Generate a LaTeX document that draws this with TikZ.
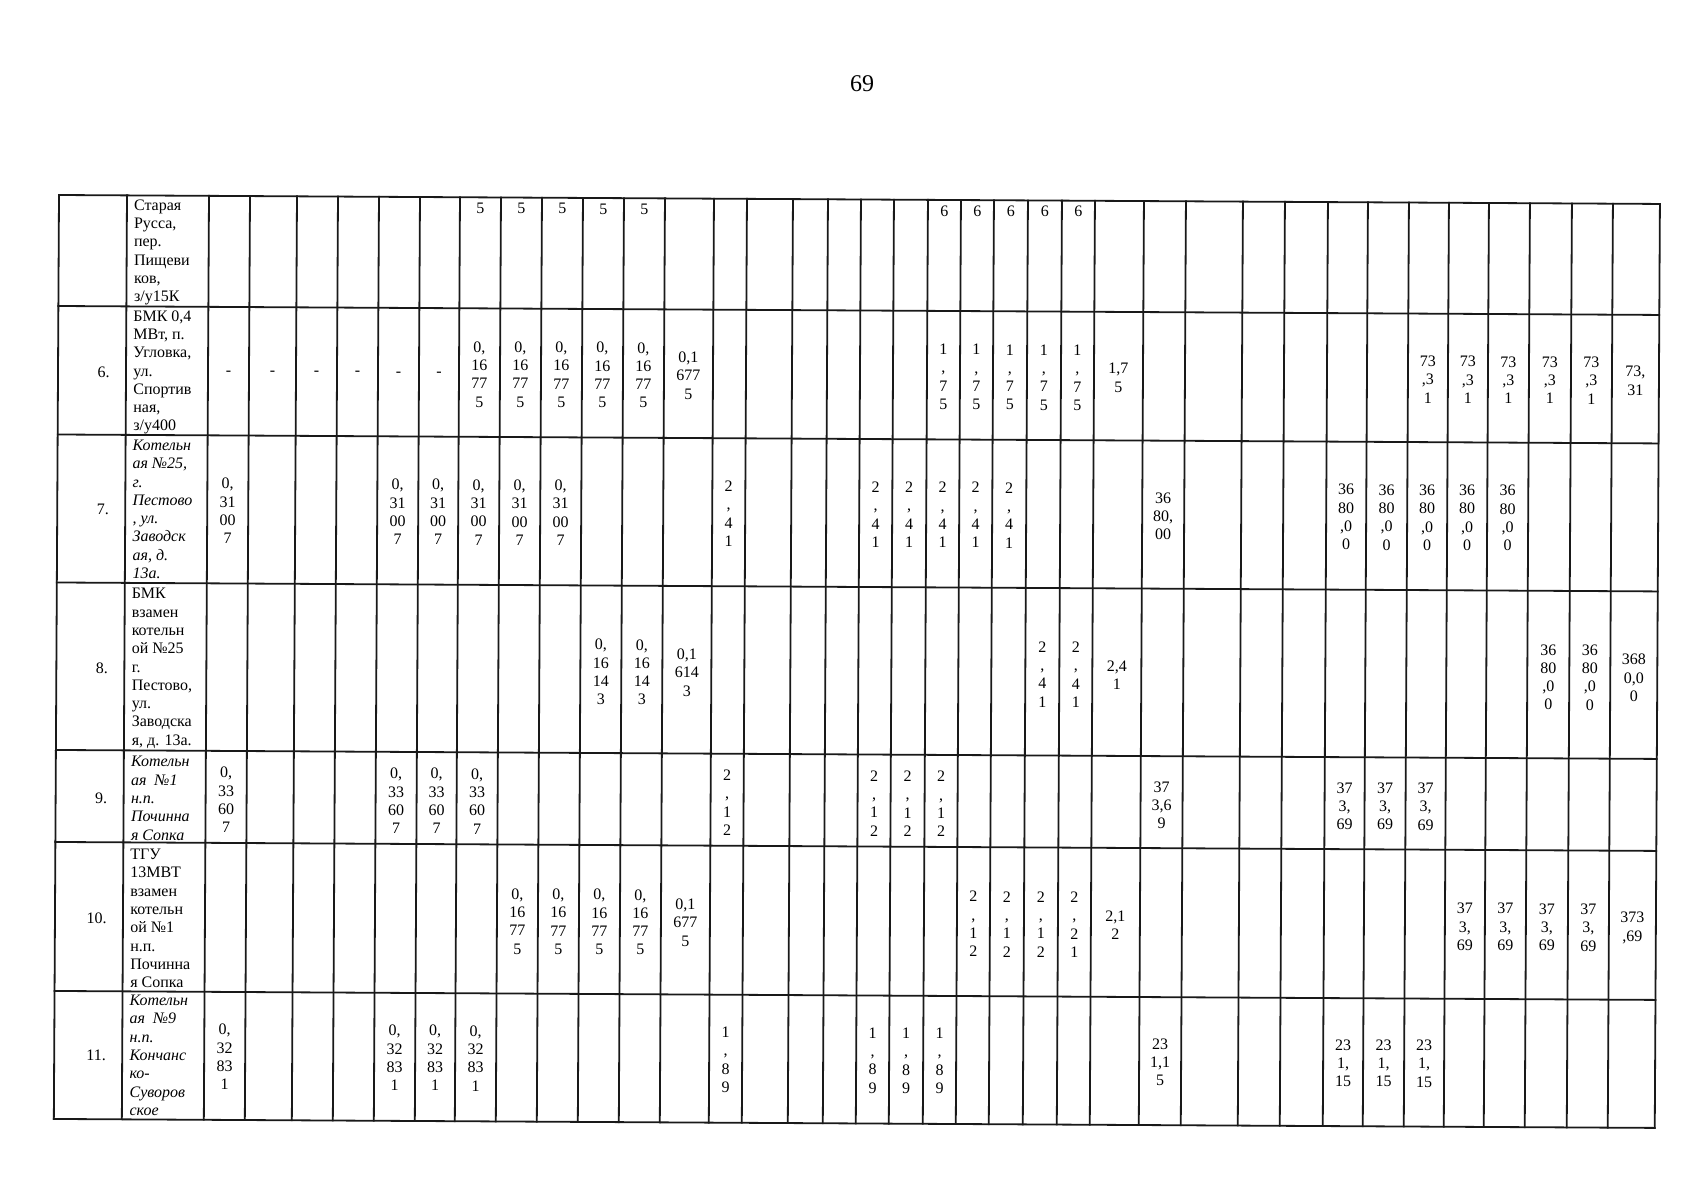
\documentclass[tikz,border=0pt]{standalone}
\usepackage{fontspec}
\setmainfont{Liberation Serif}
\usepackage{tikz}
% left edges of the table columns (px, unrotated)
\def\colL{{59,127,209,250,297,338,379,420,460,501,542,583,624,665,714,747,793,828,861,894,928,961,994,1028,1062,1095,1144,1186,1243,1285,1328,1368,1409,1449,1489,1530,1572,1613,1660}}
\tikzset{
  gridline/.style={line width=0.9pt, black!90, line cap=rect},
  numcell/.style={font=\fontsize{8}{9.15}\selectfont, anchor=east, inner sep=0pt},
  namecell/.style={font=\fontsize{8}{9.15}\selectfont, align=left, anchor=west, inner sep=0pt},
  namecellit/.style={namecell, font=\fontsize{8}{9.15}\selectfont\itshape},
  valcell/.style={font=\fontsize{8}{9.15}\selectfont, align=center, inner sep=0pt},
  pagenum/.style={font=\fontsize{12}{14}\selectfont, inner sep=0pt}
}
% same value in several columns of one row
\newcommand{\putvals}[4]{%
  \foreach \k in {#3} {%
    \pgfmathtruncatemacro{\kn}{\k+1}%
    \pgfmathsetmacro{\xa}{\colL[\k]}%
    \pgfmathsetmacro{\xb}{\colL[\kn]}%
    \pgfmathsetmacro{\cellx}{(\xa+\xb)/2}%
    \node[valcell] (#1c\k) at (\cellx,#2) {#4};%
  }%
}

\begin{document}
\begin{tikzpicture}[x=0.5pt, y=-0.5pt]
  \useasboundingbox (0,0) rectangle (1695,1200);
  \node[pagenum] (pageno) at (862,84) {69};

  \begin{scope}[rotate around={-0.32:(59,195)}]
    % table grid
    \foreach \k in {0,...,38} {
      \pgfmathsetmacro{\lx}{\colL[\k]}
      \draw[gridline] (\lx,195) -- (\lx,1119);
    }
    \foreach \yy in {195,306,434.5,582.5,750,842,991,1119}
      \draw[gridline] (59,\yy) -- (1660,\yy);

    % row continued from previous page
    \node[namecell] (rowaname) at (134,252) {Старая\\Русса,\\пер.\\Пищеви\\ков,\\з/у15К};
    \putvals{rowa}{206}{8,...,12}{5}
    \putvals{rowa}{206}{20,...,24}{6}

    % row 6
    \node[numcell] (row6no) at (111,372) {6.};
    \node[namecell] (row6name) at (134,372) {БМК 0,4\\МВт, п.\\Угловка,\\ул.\\Спортив\\ная,\\з/у400};
    \putvals{row6}{372}{2,...,7}{-}
    \putvals{row6}{372}{8,...,12}{0,\\16\\77\\5}
    \putvals{row6}{372}{13}{0,1\\677\\5}
    \putvals{row6}{372}{20,...,24}{1\\,\\7\\5}
    \putvals{row6}{372}{25}{1,7\\5}
    \putvals{row6}{372}{32,...,36}{73\\,3\\1}
    \putvals{row6}{372}{37}{73,\\31}

    % row 7
    \node[numcell] (row7no) at (111,509) {7.};
    \node[namecellit] (row7name) at (134,509) {Котельн\\ая №25,\\г.\\Пестово\\, ул.\\Заводск\\ая, д.\\13а.};
    \putvals{row7}{510}{2,6,7,8,9,10}{0,\\31\\00\\7}
    \putvals{row7}{510}{14,18,19,20,21,22}{2\\,\\4\\1}
    \putvals{row7}{510}{26}{36\\80,\\00}
    \putvals{row7}{510}{30,...,34}{36\\80\\,0\\0}

    % row 8
    \node[numcell] (row8no) at (111,668) {8.};
    \node[namecell] (row8name) at (134,668) {БМК\\взамен\\котельн\\ой №25\\г.\\Пестово,\\ул.\\Заводска\\я, д. 13а.};
    \putvals{row8}{669}{11,12}{0,\\16\\14\\3}
    \putvals{row8}{669}{13}{0,1\\614\\3}
    \putvals{row8}{669}{23,24}{2\\,\\4\\1}
    \putvals{row8}{669}{25}{2,4\\1}
    \putvals{row8}{669}{35,36}{36\\80\\,0\\0}
    \putvals{row8}{669}{37}{368\\0,0\\0}

    % row 9
    \node[numcell] (row9no) at (111,798) {9.};
    \node[namecellit] (row9name) at (134,798) {Котельн\\ая~~№1\\н.п.\\Починна\\я Сопка};
    \putvals{row9}{799}{2,6,7,8}{0,\\33\\60\\7}
    \putvals{row9}{799}{14,18,19,20}{2\\,\\1\\2}
    \putvals{row9}{799}{26}{37\\3,6\\9}
    \putvals{row9}{799}{30,31,32}{37\\3,\\69}

    % row 10
    \node[numcell] (row10no) at (111,918) {10.};
    \node[namecell] (row10name) at (134,918) {ТГУ\\13МВТ\\взамен\\котельн\\ой №1\\н.п.\\Починна\\я Сопка};
    \putvals{row10}{919}{9,...,12}{0,\\16\\77\\5}
    \putvals{row10}{919}{13}{0,1\\677\\5}
    \putvals{row10}{919}{21,22,23}{2\\,\\1\\2}
    \putvals{row10}{919}{24}{2\\,\\2\\1}
    \putvals{row10}{919}{25}{2,1\\2}
    \putvals{row10}{919}{33,...,36}{37\\3,\\69}
    \putvals{row10}{919}{37}{373\\,69}

    % row 11
    \node[numcell] (row11no) at (111,1055) {11.};
    \node[namecellit] (row11name) at (134,1055) {Котельн\\ая~~№9\\н.п.\\Кончанс\\ко-\\Суворов\\ское};
    \putvals{row11}{1056}{2,6,7,8}{0,\\32\\83\\1}
    \putvals{row11}{1056}{14,18,19,20}{1\\,\\8\\9}
    \putvals{row11}{1056}{26}{23\\1,1\\5}
    \putvals{row11}{1056}{30,31,32}{23\\1,\\15}
  \end{scope}
\end{tikzpicture}
\end{document}
